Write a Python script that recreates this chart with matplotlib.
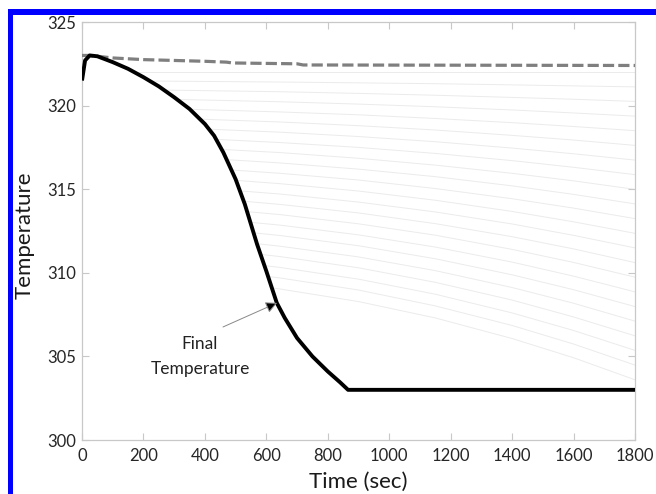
import matplotlib
matplotlib.use("Agg")
import matplotlib.pyplot as plt
from matplotlib.patches import Rectangle

plt.rcParams['font.family'] = ['Lato', 'DejaVu Sans']

# ---- data ----
final_t = [0, 10, 25, 50, 100, 150, 200, 250, 300, 350, 400, 430, 460, 500, 530,
           570, 600, 634, 660, 700, 750, 800, 840, 866, 1800]
final_T = [321.5, 322.7, 323.0, 322.95, 322.6, 322.2, 321.7, 321.15, 320.5, 319.8,
           318.9, 318.2, 317.2, 315.6, 314.1, 311.7, 310.1, 308.2, 307.3, 306.1,
           305.0, 304.1, 303.45, 303.0, 303.0]

dash_t = [0, 20, 50, 100, 200, 300, 400, 470, 490, 700, 720, 1800]
dash_T = [323.0, 323.0, 322.95, 322.85, 322.75, 322.7, 322.65, 322.6, 322.55, 322.5,
          322.43, 322.4]

# faint intermediate curves: start point (on the final curve), then values at fixed times
faint_times = [645, 900, 1150, 1400, 1600, 1800]
faint_start_t = [170, 220, 267, 310, 351, 384, 413, 437, 455, 471, 487,
                 501, 514, 526, 537, 548, 559, 570, 582, 594, 606, 617]
faint_start_T = [322.0, 321.47, 320.93, 320.37, 319.78, 319.19, 318.59, 317.98, 317.38,
                 316.77, 316.15, 315.53, 314.9, 314.28, 313.66, 313.02, 312.39, 311.74,
                 311.1, 310.43, 309.78, 309.1]
faint_T = [
    [322.0, 322.0, 322.0, 322.0, 322.0, 322.0],
    [321.41, 321.36, 321.31, 321.24, 321.18, 321.12],
    [320.83, 320.73, 320.62, 320.49, 320.38, 320.25],
    [320.23, 320.09, 319.93, 319.74, 319.56, 319.37],
    [319.62, 319.45, 319.23, 318.98, 318.75, 318.50],
    [319.02, 318.80, 318.54, 318.22, 317.94, 317.62],
    [318.41, 318.15, 317.84, 317.46, 317.12, 316.74],
    [317.79, 317.50, 317.14, 316.71, 316.31, 315.87],
    [317.19, 316.85, 316.44, 315.95, 315.50, 314.99],
    [316.57, 316.20, 315.75, 315.20, 314.69, 314.12],
    [315.95, 315.55, 315.04, 314.43, 313.87, 313.24],
    [315.33, 314.89, 314.34, 313.67, 313.05, 312.36],
    [314.71, 314.23, 313.64, 312.92, 312.24, 311.49],
    [314.09, 313.58, 312.94, 312.16, 311.43, 310.61],
    [313.48, 312.93, 312.25, 311.40, 310.62, 309.74],
    [312.85, 312.27, 311.54, 310.64, 309.80, 308.86],
    [312.23, 311.62, 310.84, 309.88, 308.99, 307.98],
    [311.59, 310.95, 310.13, 309.12, 308.18, 307.11],
    [310.97, 310.30, 309.43, 308.37, 307.36, 306.23],
    [310.32, 309.62, 308.72, 307.60, 306.55, 305.36],
    [309.69, 308.97, 308.02, 306.85, 305.74, 304.48],
    [309.03, 308.28, 307.30, 306.07, 304.92, 303.60],
]

xticks = [0, 200, 400, 600, 800, 1000, 1200, 1400, 1600, 1800]
yticks = [300, 305, 310, 315, 320, 325]

# ---- figure ----
fig = plt.figure(figsize=(6.56, 4.94), dpi=100)
ax = fig.add_axes([82 / 656, 1 - 440 / 494, (635 - 82) / 656, (440 - 22) / 494])

for i in range(len(faint_start_t)):
    ts = [faint_start_t[i]] + faint_times
    vs = [faint_start_T[i]] + faint_T[i]
    ax.plot(ts, vs, color='#ebebeb', lw=0.7, zorder=1)

ax.plot(dash_t, dash_T, color='#7f7f7f', lw=2.3, ls=(0, (3.5, 1.3)), zorder=3)
ax.plot(final_t, final_T, color='black', lw=2.8, zorder=4, solid_capstyle='butt')

ax.text(384, 305.0, 'Final\nTemperature', ha='center', va='center', fontsize=12.5,
        color='#222222', linespacing=1.65, zorder=5,
        bbox=dict(boxstyle='square,pad=0.4', fc='white', ec='none'))
ax.annotate('', xy=(635, 308.2), xytext=(459, 306.76),
            arrowprops=dict(arrowstyle='-|>', fc='black', ec='#888888', lw=0.7,
                            mutation_scale=17, shrinkA=0, shrinkB=0),
            zorder=6)

ax.set_xlim(0, 1800)
ax.set_ylim(300, 325)
ax.set_xticks(xticks)
ax.set_yticks(yticks)
ax.tick_params(direction='in', length=5, width=0.8, color='#c8c8c8',
               top=True, right=True, labelsize=12, labelcolor='#262626')
ax.tick_params(axis='x', pad=6)
ax.tick_params(axis='y', pad=4)
for s in ax.spines.values():
    s.set_color('#c8c8c8')
    s.set_linewidth(0.9)

ax.set_xlabel('Time (sec)', fontsize=16, color='#1a1a1a')
ax.set_ylabel('Temperature', fontsize=16, color='#1a1a1a')
ax.xaxis.set_label_coords(0.5, -0.1005)
ax.yaxis.set_label_coords(-0.103, 0.49)
ax.xaxis.label.set_va('center')
ax.yaxis.label.set_va('center')

# blue frame (left and top)
fig.add_artist(Rectangle((8 / 656, 0), 5 / 656, 1 - 9 / 494, transform=fig.transFigure,
                         color='#0000ff', lw=0))
fig.add_artist(Rectangle((8 / 656, 1 - 15 / 494), 1, 6 / 494, transform=fig.transFigure,
                         color='#0000ff', lw=0))

fig.savefig('out.png', dpi=100)
